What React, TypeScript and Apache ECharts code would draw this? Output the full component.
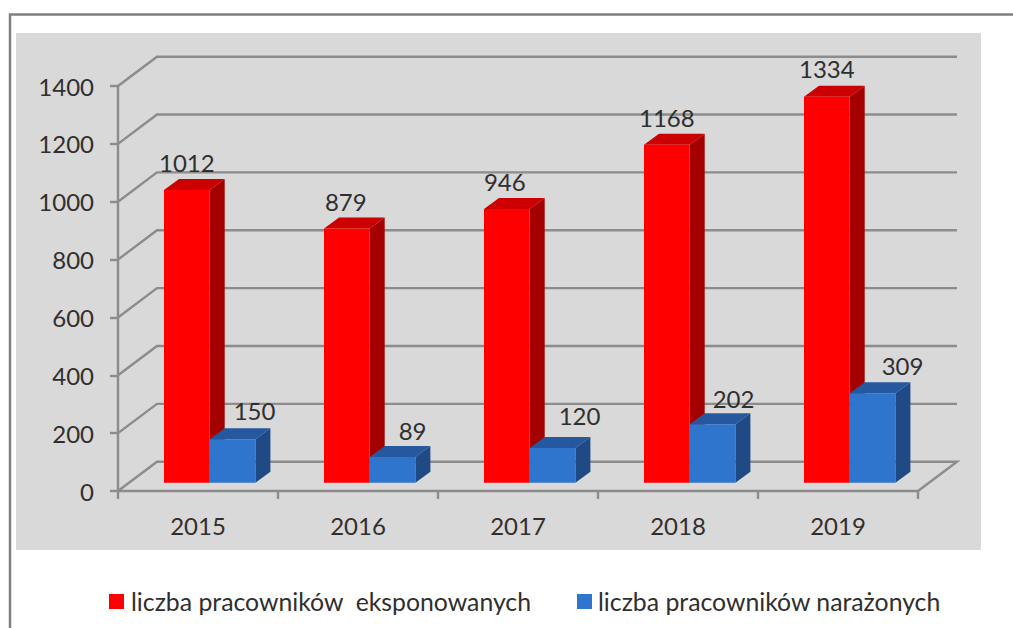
import React, { useEffect, useRef } from "react";
import * as echarts from "echarts";

const years = ["2015", "2016", "2017", "2018", "2019"];
const exposed = [1012, 879, 946, 1168, 1334];
const endangered = [150, 89, 120, 202, 309];
const yTicks = [0, 200, 400, 600, 800, 1000, 1200, 1400];
const exposedName = "liczba pracowników  eksponowanych";
const endangeredName = "liczba pracowników narażonych";

const redLabelDx = [0, -1, -2, 0, 0];
const blueLabelDx = [22, 20, 27, 21, 30];
const redLabelDy = [0, 0, -1, 0, -1];
const blueLabelDy = [-2, 1, -5, 1, -1];

const FONT = "Lato, 'Open Sans', sans-serif";
const TEXT = "#2f2f2f";
const LINE = "#8c8c8c";
const LINE_W = 2.4;
const DEPTH_X = 39;
const DEPTH_Y = 29.3;
const BAR_W = 45.7;
const BAR_DX = 15;
const BAR_DY = 11;
const BASE_SHIFT = 8.3;

const poly = (points: number[][], fill: string) => ({
  type: "polygon",
  shape: { points },
  style: { fill, stroke: null },
});

function barSeries(
  name: string,
  values: number[],
  offset: number,
  front: string,
  top: string,
  side: string,
  labelDx: number[],
  labelDy: number[],
) {
  return {
    type: "custom",
    name,
    coordinateSystem: "cartesian2d",
    itemStyle: { color: front },
    clip: false,
    encode: { x: 0, y: 1 },
    data: values.map((v, i) => [i, v]),
    renderItem: (_p: any, api: any) => {
      const i = api.value(0);
      const v = api.value(1);
      const [cx, y0] = api.coord([i, 0]);
      const [, y1] = api.coord([i, v]);
      const l = cx + offset;
      const r = l + BAR_W;
      const b = y0 - BASE_SHIFT;
      const t = y1 - BASE_SHIFT;
      return {
        type: "group",
        children: [
          poly([[r, b], [r + BAR_DX, b - BAR_DY], [r + BAR_DX, t - BAR_DY], [r, t]], side),
          poly([[l, t], [r, t], [r + BAR_DX, t - BAR_DY], [l + BAR_DX, t - BAR_DY]], top),
          poly([[l, b], [r, b], [r, t], [l, t]], front),
          {
            type: "text",
            style: {
              text: String(v),
              x: l + BAR_W / 2 + labelDx[i],
              y: t - BAR_DY - 16 + labelDy[i],
              fontSize: 24,
              fontFamily: FONT,
              fill: TEXT,
              align: "center",
              verticalAlign: "middle",
            },
          },
        ],
      };
    },
  };
}

export default function App() {
  const ref = useRef<HTMLDivElement>(null);
  useEffect(() => {
    document.body.style.margin = "0";
    const chart = echarts.init(ref.current!, null, { renderer: "svg" });
    chart.setOption({
      animation: false,
      backgroundColor: "#ffffff",
      graphic: [
        { type: "rect", silent: true, z: -10, shape: { x: 16, y: 33, width: 965, height: 517 }, style: { fill: "#d9d9d9" } },
        { type: "polyline", silent: true, z: -10, shape: { points: [[10, 628], [10, 14.5], [1013, 14.5]] }, style: { fill: null, stroke: "#808080", lineWidth: 2.5 } },
      ],
      grid: { left: 118, top: 86, width: 800, height: 405, containLabel: false },
      xAxis: {
        type: "category",
        data: years,
        axisLine: { show: true, lineStyle: { color: LINE, width: LINE_W } },
        axisTick: { show: true, length: 8, lineStyle: { color: LINE, width: LINE_W } },
        axisLabel: { margin: 22, fontSize: 24, fontFamily: FONT, color: TEXT },
        splitLine: { show: false },
      },
      yAxis: {
        type: "value",
        min: 0,
        max: 1400,
        interval: 200,
        axisLine: { show: true, lineStyle: { color: LINE, width: LINE_W } },
        axisTick: { show: true, length: 8, lineStyle: { color: LINE, width: LINE_W } },
        axisLabel: { margin: 24, fontSize: 24, fontFamily: FONT, color: TEXT, formatter: (v: number) => String(v) },
        splitLine: { show: false },
      },
      legend: [
        {
          left: 109, top: 589, padding: 0, itemWidth: 15, itemHeight: 15, itemGap: 0, icon: "rect",
          data: [exposedName],
          textStyle: { fontSize: 24.8, fontFamily: FONT, color: TEXT, padding: [0, 0, 0, 2] },
        },
        {
          left: 577, top: 589, padding: 0, itemWidth: 15, itemHeight: 15, itemGap: 0, icon: "rect",
          data: [endangeredName],
          textStyle: { fontSize: 24.8, fontFamily: FONT, color: TEXT, padding: [0, 0, 0, 1] },
        },
      ],
      series: [
        {
          type: "custom",
          name: "wall",
          coordinateSystem: "cartesian2d",
          clip: false,
          silent: true,
          z: 1,
          encode: { x: 0, y: 1 },
          data: yTicks.map((v) => [0, v]),
          renderItem: (p: any, api: any) => {
            const v = api.value(1);
            const [, y] = api.coord([0, v]);
            const g = p.coordSys;
            const x0 = g.x;
            const pts = [[x0, y], [x0 + DEPTH_X, y - DEPTH_Y], [x0 + g.width + DEPTH_X, y - DEPTH_Y]];
            if (v === 0) pts.push([x0 + g.width, y]);
            return { type: "polyline", shape: { points: pts }, style: { fill: null, stroke: LINE, lineWidth: LINE_W } };
          },
        },
        barSeries(exposedName, exposed, -34, "#ff0000", "#cc0000", "#a50000", redLabelDx, redLabelDy),
        barSeries(endangeredName, endangered, 11.7, "#2f75cd", "#25589f", "#1f4a85", blueLabelDx, blueLabelDy),
      ],
    });
    return () => chart.dispose();
  }, []);
  return <div ref={ref} style={{ position: "fixed", left: 0, top: 0, width: 1013, height: 628 }} />;
}
